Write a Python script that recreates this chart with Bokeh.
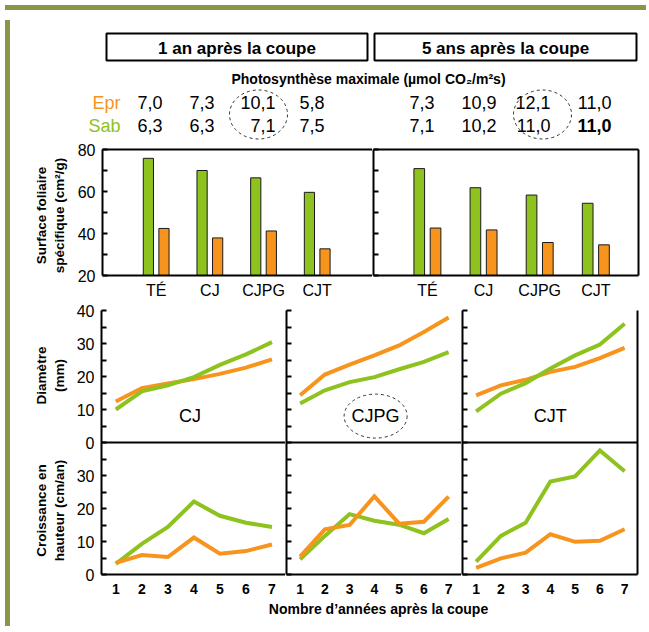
import math
from bokeh.plotting import figure
from bokeh.models import Range1d, FixedTicker, LinearAxis, ColumnDataSource, Div, Span
from bokeh.layouts import row, column
from bokeh.embed import file_html
from bokeh.resources import INLINE
from bokeh.core.properties import value
from bokeh.transform import dodge

# ---------------- data ----------------
periods = ["1 an après la coupe", "5 ans après la coupe"]
photo_title = "Photosynthèse maximale (µmol CO₂/m²s)"
species = ["Epr", "Sab"]
treatments = ["TÉ", "CJ", "CJPG", "CJT"]

photo_epr_1an = [7.0, 7.3, 10.1, 5.8]
photo_sab_1an = [6.3, 6.3, 7.1, 7.5]
photo_epr_5ans = [7.3, 10.9, 12.1, 11.0]
photo_sab_5ans = [7.1, 10.2, 11.0, 11.0]

sla_title = ["Surface foliaire", "spécifique (cm²/g)"]
sla_sab_1an = [75.8, 70.0, 66.5, 59.6]
sla_epr_1an = [42.4, 37.9, 41.2, 32.7]
sla_sab_5ans = [70.9, 61.8, 58.3, 54.4]
sla_epr_5ans = [42.6, 41.7, 35.7, 34.6]
sla_ticks = [20, 30, 40, 50, 60, 70, 80]

years = [1, 2, 3, 4, 5, 6, 7]
panels = ["CJ", "CJPG", "CJT"]

diam_title = ["Diamètre", "(mm)"]
diam_sab_cj = [10.0, 15.5, 17.3, 19.8, 23.5, 26.7, 30.4]
diam_epr_cj = [12.4, 16.5, 17.9, 19.2, 20.8, 22.7, 25.2]
diam_sab_cjpg = [11.8, 15.8, 18.3, 19.8, 22.2, 24.4, 27.4]
diam_epr_cjpg = [14.3, 20.6, 23.6, 26.4, 29.4, 33.5, 37.9]
diam_sab_cjt = [9.4, 14.8, 18.0, 22.4, 26.4, 29.7, 36.0]
diam_epr_cjt = [14.3, 17.3, 19.0, 21.4, 22.9, 25.6, 28.7]

growth_title = ["Croissance en", "hauteur (cm/an)"]
growth_sab_cj = [3.2, 9.3, 14.4, 22.1, 17.8, 15.7, 14.4]
growth_epr_cj = [3.5, 5.9, 5.3, 11.2, 6.3, 7.1, 9.1]
growth_sab_cjpg = [4.6, 11.7, 18.3, 16.3, 15.1, 12.5, 16.8]
growth_epr_cjpg = [5.4, 13.7, 15.0, 23.7, 15.4, 16.0, 23.6]
growth_sab_cjt = [3.9, 11.7, 15.7, 28.2, 29.7, 37.6, 31.3]
growth_epr_cjt = [2.0, 4.9, 6.6, 12.2, 9.9, 10.2, 13.7]
line_ticks = list(range(0, 85, 5))

x_title = "Nombre d’années après la coupe"

# ---------------- style ----------------
FONT = "Liberation Sans"
OLIVE = "#8a9646"
ORANGE = "#f7941d"
GREEN = "#8dc21f"
EDGE = "#1a1a1a"


def fmt(v):
    return f"{v:.1f}".replace(".", ",")


def base_fig(width, height, xr, yr, ml=0, mr=0, mt=0, mb=0):
    p = figure(width=width, height=height, x_range=xr, y_range=yr,
               output_backend="svg", toolbar_location=None,
               x_axis_type=None, y_axis_type=None)
    p.outline_line_color = None
    p.min_border_left = ml
    p.min_border_right = mr
    p.min_border_top = mt
    p.min_border_bottom = mb
    p.background_fill_color = "white"
    p.border_fill_color = "white"
    return p


def style_axis(ax, size="16px", bold=False, tick_in=0, standoff=0):
    ax.axis_line_color = "black"
    ax.axis_line_width = 2
    ax.major_tick_in = tick_in
    ax.major_tick_out = 0
    ax.major_tick_line_color = "black"
    ax.major_tick_line_width = 2
    ax.minor_tick_line_color = None
    ax.major_label_text_font = FONT
    ax.major_label_text_font_size = size
    ax.major_label_text_font_style = "bold" if bold else "normal"
    ax.major_label_text_color = "black"
    ax.major_label_standoff = standoff
    return ax


def line_only(p, side):
    ax = LinearAxis(ticker=FixedTicker(ticks=[]))
    style_axis(ax)
    p.add_layout(ax, side)


# ---------------- header ----------------
hdr = base_fig(636, 125, Range1d(13, 649), Range1d(138, 13))
hdr.quad(left=[104, 372], right=[365, 634], top=[31, 31], bottom=[58, 58],
         fill_color="white", line_color="black", line_width=2)
hdr.text(x=[234.5, 503], y=[45.5, 45.5], text=periods, text_font=value(FONT),
         text_font_size="17px", text_font_style="bold", text_align="center",
         text_baseline="middle", text_color="black")
hdr.text(x=[366], y=[76], text=[photo_title], text_font=value(FONT),
         text_font_size="14px", text_font_style="bold", text_align="center",
         text_baseline="middle", text_color="black")
row_y = [100, 123]
hdr.text(x=[118, 118], y=row_y, text=species, text_font=value(FONT),
         text_font_size="18px", text_align="right", text_baseline="middle",
         text_color=[ORANGE, GREEN])
col_right = [160, 212, 273, 322, 432, 494, 548, 609]
epr_vals = [fmt(v) for v in photo_epr_1an + photo_epr_5ans]
sab_vals = [fmt(v) for v in photo_sab_1an + photo_sab_5ans]
hdr.text(x=col_right, y=[row_y[0]] * len(col_right), text=epr_vals,
         text_font=value(FONT), text_font_size="18px", text_align="right",
         text_baseline="middle", text_color="black")
hdr.text(x=col_right[:-1], y=[row_y[1]] * (len(col_right) - 1), text=sab_vals[:-1],
         text_font=value(FONT), text_font_size="18px", text_align="right",
         text_baseline="middle", text_color="black")
hdr.text(x=col_right[-1:], y=[row_y[1]], text=sab_vals[-1:],
         text_font=value(FONT), text_font_size="18px", text_font_style="bold",
         text_align="right", text_baseline="middle", text_color="black")
hdr.ellipse(x=[256, 540], y=[112, 112], width=58, height=49,
            width_units="screen", height_units="screen",
            fill_color=None, line_color="#333333", line_width=1, line_dash="3 3")


# ---------------- bar charts ----------------
def bar_fig(width, xr, ml, mr, sab, epr, labels, right_line):
    p = base_fig(width, 162, xr, Range1d(20, 80), ml=ml, mr=mr, mt=9, mb=27)
    src = ColumnDataSource(dict(idx=list(range(len(treatments))), sab=sab, epr=epr))
    p.vbar(x=dodge("idx", -0.145, range=p.x_range), top="sab", bottom=0, width=0.19,
           source=src, fill_color=GREEN, line_color=EDGE, line_width=1)
    p.vbar(x=dodge("idx", 0.145, range=p.x_range), top="epr", bottom=0, width=0.19,
           source=src, fill_color=ORANGE, line_color=EDGE, line_width=1)
    left = LinearAxis(ticker=FixedTicker(ticks=sla_ticks))
    style_axis(left, size="16px", tick_in=5, standoff=7 if labels else 0)
    left.major_label_overrides = {t: (str(t) if (labels and t % 20 == 0) else "")
                                  for t in sla_ticks}
    p.add_layout(left, "left")
    below = LinearAxis(ticker=FixedTicker(ticks=list(range(len(treatments)))))
    style_axis(below, size="16px", standoff=6)
    below.major_label_overrides = {i: t for i, t in enumerate(treatments)}
    p.add_layout(below, "below")
    line_only(p, "above")
    if right_line:
        line_only(p, "right")
    return p


bar1 = bar_fig(304, Range1d(-1.0, 4.03), 34, 0, sla_sab_1an, sla_epr_1an, True, False)
bar2 = bar_fig(279, Range1d(-0.96, 3.76), 1, 13, sla_sab_5ans, sla_epr_5ans, False, True)


# ---------------- line charts ----------------
def line_fig(width, ml, mr, d_sab, d_epr, g_sab, g_epr, name, name_x,
             labels, right_line, circled):
    p = base_fig(width, 300, Range1d(0.45, 7.52), Range1d(0, 80), ml=ml, mr=mr, mt=8, mb=28)
    src = ColumnDataSource(dict(year=years, d_sab=d_sab, d_epr=d_epr,
                                g_sab=g_sab, g_epr=g_epr))
    p.line(x="year", y=dodge("d_epr", 40, range=p.y_range), source=src,
           line_color=ORANGE, line_width=4, line_join="miter")
    p.line(x="year", y=dodge("d_sab", 40, range=p.y_range), source=src,
           line_color=GREEN, line_width=4, line_join="miter")
    p.line(x="year", y="g_sab", source=src, line_color=GREEN, line_width=4,
           line_join="miter")
    p.line(x="year", y="g_epr", source=src, line_color=ORANGE, line_width=4,
           line_join="miter")
    p.add_layout(Span(location=40, dimension="width", line_color="black", line_width=2))
    p.text(x=[name_x], y=[48], text=[name], text_font=value(FONT), text_font_size="18px",
           text_align="center", text_baseline="middle", text_color="black")
    if circled:
        p.ellipse(x=[name_x], y=[48], width=63, height=44, width_units="screen",
                  height_units="screen", fill_color=None, line_color="#333333",
                  line_width=1, line_dash="3 3")
    left = LinearAxis(ticker=FixedTicker(ticks=line_ticks))
    style_axis(left, size="16px", tick_in=5, standoff=7 if labels else 0)
    left.major_label_overrides = {
        t: ((str(t) if t < 40 else str(t - 40)) if (labels and t % 10 == 0) else "")
        for t in line_ticks}
    p.add_layout(left, "left")
    below = LinearAxis(ticker=FixedTicker(ticks=years))
    style_axis(below, size="14px", bold=True, standoff=9)
    p.add_layout(below, "below")
    if right_line:
        line_only(p, "right")
    return p


ln1 = line_fig(217, 33, 0, diam_sab_cj, diam_epr_cj, growth_sab_cj, growth_epr_cj,
               panels[0], 3.85, True, False, False)
ln2 = line_fig(176, 1, 0, diam_sab_cjpg, diam_epr_cjpg, growth_sab_cjpg, growth_epr_cjpg,
               panels[1], 4.05, False, False, True)
ln3 = line_fig(190, 1, 14, diam_sab_cjt, diam_epr_cjt, growth_sab_cjt, growth_epr_cjt,
               panels[2], 4.0, False, True, False)

# ---------------- footer with the x-axis title ----------------
foot = base_fig(583, 19, Range1d(66, 649), Range1d(619, 600))
foot.text(x=[376], y=[606], text=[x_title], text_font=value(FONT),
          text_font_size="14px", text_font_style="bold", text_align="center",
          text_baseline="middle", text_color="black")

# ---------------- left gutter with rotated titles ----------------
gut = base_fig(53, 481, Range1d(13, 66), Range1d(619, 138))
title_x = [38.5, 56.5]
for lines, yc in ((sla_title, 213), (diam_title, 373), (growth_title, 508)):
    gut.text(x=title_x, y=[yc, yc], text=lines, angle=math.pi / 2,
             text_font=value(FONT), text_font_size="13.5px", text_font_style="bold",
             text_align="center", text_baseline="middle", text_color="black")

# ---------------- layout ----------------
charts = column(row(bar1, bar2), row(ln1, ln2, ln3), foot)
inner = column(hdr, row(gut, charts))
olive_top = Div(width=641, height=5, styles={"background-color": OLIVE})
olive_left = Div(width=5, height=606, styles={"background-color": OLIVE})
root = column(olive_top, row(olive_left, inner))

open("out.html", "w").write(file_html(root, INLINE))
